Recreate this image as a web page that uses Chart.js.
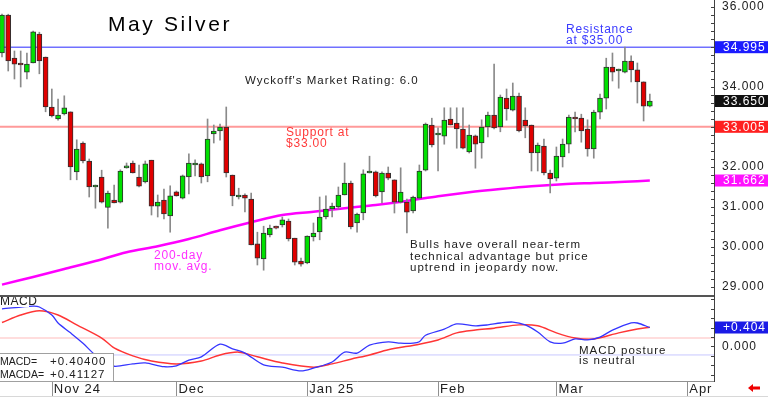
<!DOCTYPE html>
<html>
<head>
<meta charset="utf-8">
<script src="https://cdn.jsdelivr.net/npm/chart.js@4.4.1/dist/chart.umd.min.js"></script>
<style>
html, body { margin: 0; padding: 0; background: #fff; }
#wrap { position: relative; width: 768px; height: 397px; overflow: hidden; }
#priceCanvas { position: absolute; left: 0; top: 0; }
#macdCanvas { position: absolute; left: 0; top: 297px; }
</style>
</head>
<body>
<div id="wrap">
  <canvas id="priceCanvas" width="768" height="297"></canvas>
  <canvas id="macdCanvas" width="768" height="100"></canvas>
</div>
<script>
// Daily candles, oldest first
const opens  = [34.85,35.80,34.72,34.57,34.37,34.60,35.32,34.75,33.50,33.20,33.33,33.38,31.88,32.60,32.15,31.50,31.75,30.99,31.17,31.12,
                31.98,32.10,31.75,31.63,32.17,31.02,31.17,30.78,31.38,31.22,31.75,32.05,32.08,31.78,32.83,32.90,33.00,31.80,31.25,31.30,
                31.20,30.08,29.70,30.30,30.50,30.55,30.65,30.22,29.65,29.60,30.25,30.38,30.75,30.95,31.00,31.30,31.60,30.60,30.85,31.85,
                31.88,31.38,31.85,31.68,31.12,31.12,30.90,31.22,31.92,33.05,32.80,32.77,33.20,33.10,32.95,32.38,32.78,32.60,33.00,33.30,
                33.00,33.72,33.42,33.77,33.17,33.05,32.35,32.52,31.85,31.72,32.25,32.57,33.22,33.22,32.95,32.45,33.37,33.72,34.50,34.40,
                34.37,34.65,34.43,34.13,33.52];
const highs  = [35.82,35.82,34.90,34.90,34.85,35.40,35.37,34.75,33.95,33.70,33.78,33.38,32.68,32.63,32.20,31.55,31.92,31.40,31.55,31.93,
                32.10,32.15,32.05,32.15,32.17,31.30,31.45,31.53,31.40,31.80,32.33,32.18,32.10,33.20,33.05,33.07,33.50,31.80,31.47,31.33,
                31.35,30.37,30.52,30.55,30.52,30.75,30.70,30.22,29.72,30.28,30.60,31.25,31.28,31.10,31.50,32.10,31.65,30.85,31.93,32.27,
                31.90,31.88,32.00,31.68,31.98,31.20,31.27,32.05,33.10,33.22,32.98,33.48,33.48,33.48,33.48,33.05,32.80,33.18,33.37,34.57,
                33.80,33.95,34.10,33.85,33.48,33.05,32.60,32.70,31.92,32.50,32.70,33.30,33.37,33.32,33.18,33.42,33.82,34.72,34.85,34.45,
                35.00,34.78,34.60,34.13,33.82];
const lows   = [34.75,34.40,34.20,34.00,34.20,34.60,34.33,33.38,33.25,33.17,33.30,31.68,31.68,32.10,31.25,30.97,31.10,30.47,31.10,31.10,
                31.97,31.85,31.50,31.60,30.80,30.75,30.70,30.37,31.27,31.20,31.33,31.78,31.60,31.63,32.60,32.67,31.75,31.03,31.20,30.88,
                30.05,29.55,29.42,30.25,30.45,30.50,30.15,29.55,29.52,29.58,30.15,30.18,30.70,30.75,30.95,31.30,30.45,30.37,30.68,31.85,
                31.25,31.10,31.68,30.85,31.10,30.35,30.85,31.20,31.90,32.50,31.90,32.57,33.05,32.47,32.45,32.35,31.97,32.22,32.75,32.95,
                32.88,33.17,33.40,32.88,32.73,31.90,31.90,31.80,31.35,31.65,32.00,32.35,32.88,32.62,32.27,32.22,33.20,33.45,34.15,33.97,
                34.35,34.13,33.60,33.15,33.50];
const closes = [35.80,34.65,34.57,34.55,34.57,35.38,34.65,33.50,33.28,33.30,33.48,32.00,32.45,32.15,31.50,31.52,31.12,31.35,31.10,31.90,
                32.00,31.85,31.52,32.08,31.02,31.12,30.83,31.28,31.28,31.78,32.10,32.10,31.75,32.70,32.90,33.00,31.85,31.28,31.30,31.22,
                30.05,29.72,30.35,30.47,30.47,30.68,30.20,29.62,29.57,30.27,30.35,30.75,30.95,31.02,31.30,31.60,30.50,30.82,31.83,31.88,
                31.28,31.85,31.72,31.12,31.37,30.87,31.25,31.90,33.07,32.55,32.82,33.17,33.05,32.95,32.47,32.80,32.57,33.00,33.30,32.98,
                33.75,33.45,33.77,32.90,33.03,32.35,32.55,31.85,31.70,32.27,32.57,33.25,33.20,32.90,32.45,33.37,33.72,34.50,34.37,34.42,
                34.65,34.43,34.13,33.52,33.65];

// 200-day moving average, sampled at bar indices
const maIdx  = [0, 5, 10, 15, 20, 25, 30, 35, 40, 45, 50, 55, 60, 65, 70, 75, 80, 85, 90, 95, 100, 104];
const maVals = [29.06, 29.25, 29.45, 29.65, 29.87, 30.02, 30.20, 30.42, 30.62, 30.80, 30.88, 30.97, 31.05, 31.15,
                31.27, 31.37, 31.45, 31.52, 31.57, 31.60, 31.63, 31.662];

// MACD (blue) and its average (red), sampled at bar indices
const macdIdx  = [0, 5, 6, 8, 9, 11, 13, 15, 17, 18, 21, 23, 26, 28, 30, 32, 35, 37, 39, 42, 45, 48, 50, 53, 55, 57, 59,
                  62, 64, 66, 67, 68, 71, 73, 76, 78, 80, 82, 84, 86, 88, 90, 92, 94, 96, 98, 101, 102, 104];
const macdVals = [0.80, 0.86, 0.84, 0.67, 0.50, 0.29, 0.07, -0.18, -0.31, -0.42, -0.37, -0.35, -0.43, -0.41, -0.29, -0.22,
                  0.05, -0.05, -0.14, -0.39, -0.44, -0.52, -0.46, -0.33, -0.12, -0.14, 0.03, 0.10, 0.07, 0.07, 0.10, 0.24,
                  0.37, 0.48, 0.44, 0.46, 0.50, 0.52, 0.46, 0.31, 0.10, 0.07, 0.16, 0.14, 0.20, 0.35, 0.50, 0.50, 0.404];
const sigIdx   = [0, 3, 6, 9, 12, 16, 18, 21, 24, 28, 32, 35, 38, 41, 45, 50, 53, 56, 59, 62, 67, 70, 73, 76, 79, 83,
                  86, 89, 92, 95, 99, 102, 104];
const sigVals  = [0.51, 0.67, 0.76, 0.67, 0.46, 0.18, -0.03, -0.20, -0.31, -0.37, -0.31, -0.18, -0.12, -0.22, -0.35,
                  -0.44, -0.37, -0.27, -0.18, -0.07, 0.05, 0.14, 0.29, 0.35, 0.39, 0.46, 0.44, 0.29, 0.18, 0.16, 0.29,
                  0.37, 0.411];

// Month ticks on the date axis
const monthIdx    = [8, 28, 49, 70, 89, 110];
const monthLabels = ['Nov 24', 'Dec', 'Jan 25', 'Feb', 'Mar', 'Apr'];

const resistance = 34.995;
const support = 33.005;
const lastClose = 33.650;
const lastMA = 31.662;
const macdNow = 0.40400;
const macdAvgNow = 0.41127;
const macdBands = [0.18, -0.18];

const xMin = -0.32, xMax = 114.3;
const upColor = '#00e000', downColor = '#e00000';
const FONT = "'Liberation Sans', Arial, sans-serif";

function txt(ctx, s, x, y, color, size, spacing, align) {
    ctx.save();
    ctx.font = size + 'px ' + FONT;
    ctx.letterSpacing = (spacing || 0) + 'px';
    ctx.fillStyle = color;
    ctx.textAlign = align || 'left';
    ctx.textBaseline = 'middle';
    ctx.fillText(s, x, y);
    ctx.restore();
}

function valueBox(ctx, scale, value, bg, label) {
    const y = scale.getPixelForValue(value);
    ctx.fillStyle = bg;
    ctx.fillRect(scale.left + 1, y - 6, 54, 12);
    txt(ctx, label, scale.left + 9, y + 0.5, '#ffffff', 12, 1);
}

function minorTicks(ctx, scale, from, to, step) {
    ctx.strokeStyle = '#404040';
    ctx.lineWidth = 1;
    for (let v = from; v <= to + 1e-9; v += step) {
        const y = Math.round(scale.getPixelForValue(v)) + 0.5;
        ctx.beginPath();
        ctx.moveTo(scale.left - 3, y);
        ctx.lineTo(scale.left, y);
        ctx.stroke();
    }
}

const spacingPlugin = {
    id: 'spacing',
    beforeDraw(chart) { chart.ctx.letterSpacing = '1px'; }
};

// Price panel
const bars = opens.map((o, i) => i);
const pricePlugin = {
    id: 'priceExtras',
    afterDraw(chart) {
        const ctx = chart.ctx;
        const ys = chart.scales.y;
        ctx.save();
        minorTicks(ctx, ys, 28.8, 36.0, 0.2);
        // panel separator
        ctx.fillStyle = '#555555';
        ctx.fillRect(0, 295, ys.left, 2);

        txt(ctx, 'May Silver', 108, 25, '#000000', 21, 2.6);
        txt(ctx, "Wyckoff's Market Rating: 6.0", 245, 81, '#202020', 11.5, 1);
        txt(ctx, 'Resistance', 566, 30, '#3a3aff', 12, 0.8);
        txt(ctx, 'at $35.00', 566, 41, '#3a3aff', 12, 0.8);
        txt(ctx, 'Support at', 286, 133, '#ff3a3a', 12, 0.8);
        txt(ctx, '$33.00', 286, 144, '#ff3a3a', 12, 0.8);
        txt(ctx, '200-day', 154, 256, '#ff30ff', 12, 0.8);
        txt(ctx, 'mov. avg.', 154, 267, '#ff30ff', 12, 0.8);
        txt(ctx, 'Bulls have overall near-term', 410, 245, '#202020', 11.5, 1);
        txt(ctx, 'technical advantage but price', 410, 257, '#202020', 11.5, 1);
        txt(ctx, 'uptrend in jeopardy now.', 410, 268, '#202020', 11.5, 1);

        valueBox(ctx, ys, resistance, '#1c1cff', resistance.toFixed(3));
        valueBox(ctx, ys, lastClose, '#111111', lastClose.toFixed(3));
        valueBox(ctx, ys, support, '#ff2020', support.toFixed(3));
        valueBox(ctx, ys, lastMA, '#ff10ff', lastMA.toFixed(3));
        ctx.restore();
    }
};

new Chart(document.getElementById('priceCanvas'), {
    type: 'bar',
    data: {
        datasets: [
            {
                data: bars.map(i => ({ x: i, y: [opens[i], closes[i]] })),
                backgroundColor: bars.map(i => closes[i] >= opens[i] ? upColor : downColor),
                borderColor: '#303030',
                borderWidth: 1,
                borderSkipped: false,
                barThickness: 5,
                minBarLength: 2,
                grouped: false,
                order: 0
            },
            {
                data: bars.map(i => ({ x: i, y: [lows[i], highs[i]] })),
                backgroundColor: '#8a8a8a',
                borderWidth: 0,
                barThickness: 1,
                grouped: false,
                order: 1
            },
            {
                type: 'line',
                data: maIdx.map((x, k) => ({ x: x, y: maVals[k] })),
                borderColor: '#ff00ff',
                borderWidth: 2.5,
                pointRadius: 0,
                tension: 0.3,
                order: 2
            },
            {
                type: 'line',
                data: [{ x: xMin, y: resistance }, { x: xMax, y: resistance }],
                borderColor: '#7070ff',
                borderWidth: 1.5,
                pointRadius: 0,
                order: 3
            },
            {
                type: 'line',
                data: [{ x: xMin, y: support }, { x: xMax, y: support }],
                borderColor: '#ff9a9a',
                borderWidth: 2,
                pointRadius: 0,
                order: 3
            }
        ]
    },
    options: {
        responsive: false,
        animation: false,
        layout: { padding: 0 },
        plugins: { legend: { display: false }, tooltip: { enabled: false } },
        scales: {
            x: { type: 'linear', min: xMin, max: xMax, offset: false, display: false },
            y: {
                type: 'linear',
                position: 'right',
                min: 28.75,
                max: 36.175,
                afterFit(s) { s.width = 54; s.paddingTop = 0; s.paddingBottom = 0; },
                grid: { display: false, drawTicks: false },
                border: { display: true, color: '#404040', width: 1 },
                ticks: {
                    stepSize: 1,
                    includeBounds: false,
                    padding: 8,
                    color: '#202020',
                    font: { family: FONT, size: 12 },
                    callback: v => v.toFixed(3)
                }
            }
        }
    },
    plugins: [spacingPlugin, pricePlugin]
});

// MACD panel
const macdPlugin = {
    id: 'macdExtras',
    afterDraw(chart) {
        const ctx = chart.ctx;
        const ys = chart.scales.y;
        const xs = chart.scales.x;
        const area = chart.chartArea;
        ctx.save();
        minorTicks(ctx, ys, -0.6, 1.0, 0.2);

        // date row separators
        ctx.strokeStyle = '#909090';
        ctx.lineWidth = 1;
        monthIdx.forEach(v => {
            const x = Math.round(xs.getPixelForValue(v)) + 0.5;
            ctx.beginPath();
            ctx.moveTo(x, area.bottom);
            ctx.lineTo(x, 100);
            ctx.stroke();
        });
        ctx.fillStyle = '#d8d8d8';
        ctx.fillRect(0, 99, 768, 1);

        // MACD label
        ctx.fillStyle = '#ffffff';
        ctx.fillRect(0, 0, 29, 10);
        txt(ctx, 'MACD', 0, 5, '#202020', 12, 0.5);

        // readout box
        ctx.fillStyle = '#ffffff';
        ctx.fillRect(0, 56, 114, 28);
        ctx.strokeStyle = '#a0a0a0';
        ctx.strokeRect(-0.5, 56.5, 114, 28);
        txt(ctx, 'MACD=', 0, 65, '#202020', 10.5, 0);
        txt(ctx, '+' + macdNow.toFixed(5), 50, 65, '#202020', 11.5, 1);
        txt(ctx, 'MACDA=', 0, 78, '#202020', 10.5, 0);
        txt(ctx, '+' + macdAvgNow.toFixed(5), 50, 78, '#202020', 11.5, 1);

        txt(ctx, 'MACD posture', 579, 54, '#202020', 11.5, 1);
        txt(ctx, 'is neutral', 579, 64, '#202020', 11.5, 1);

        valueBox(ctx, ys, macdNow, '#1a1ae6', '+' + macdNow.toFixed(3));

        // red arrow in the corner
        ctx.fillStyle = '#ee0000';
        ctx.beginPath();
        ctx.moveTo(748, 91);
        ctx.lineTo(753, 87);
        ctx.lineTo(753, 89.5);
        ctx.lineTo(760, 89.5);
        ctx.lineTo(760, 92.5);
        ctx.lineTo(753, 92.5);
        ctx.lineTo(753, 95);
        ctx.closePath();
        ctx.fill();
        ctx.restore();
    }
};

new Chart(document.getElementById('macdCanvas'), {
    type: 'line',
    data: {
        datasets: [
            {
                data: macdIdx.map((x, k) => ({ x: x, y: macdVals[k] })),
                borderColor: '#3535ff',
                borderWidth: 1.3,
                pointRadius: 0,
                tension: 0.3
            },
            {
                data: sigIdx.map((x, k) => ({ x: x, y: sigVals[k] })),
                borderColor: '#ff3535',
                borderWidth: 1.5,
                pointRadius: 0,
                tension: 0.3
            },
            {
                data: [{ x: xMin, y: macdBands[0] }, { x: xMax, y: macdBands[0] }],
                borderColor: '#ffd2d2',
                borderWidth: 1.5,
                pointRadius: 0
            },
            {
                data: [{ x: xMin, y: macdBands[1] }, { x: xMax, y: macdBands[1] }],
                borderColor: '#c8c8ff',
                borderWidth: 1,
                pointRadius: 0
            }
        ]
    },
    options: {
        responsive: false,
        animation: false,
        layout: { padding: 0 },
        plugins: { legend: { display: false }, tooltip: { enabled: false } },
        scales: {
            x: {
                type: 'linear',
                min: xMin,
                max: xMax,
                offset: false,
                afterBuildTicks(s) { s.ticks = monthIdx.map(v => ({ value: v })); },
                afterFit(s) { s.height = 16; s.paddingLeft = 0; s.paddingRight = 0; },
                grid: { display: false, drawTicks: false },
                border: { display: true, color: '#909090', width: 1 },
                ticks: {
                    autoSkip: false,
                    maxRotation: 0,
                    align: 'start',
                    labelOffset: 2,
                    padding: 1,
                    color: '#202020',
                    font: { family: FONT, size: 13 },
                    callback: (v, i) => monthLabels[i]
                }
            },
            y: {
                type: 'linear',
                position: 'right',
                min: -0.734,
                max: 1.053,
                afterBuildTicks(s) { s.ticks = [{ value: 0 }]; },
                afterFit(s) { s.width = 54; s.paddingTop = 0; s.paddingBottom = 0; },
                grid: { display: false, drawTicks: false },
                border: { display: true, color: '#404040', width: 1 },
                ticks: {
                    padding: 8,
                    color: '#202020',
                    font: { family: FONT, size: 12 },
                    callback: v => v.toFixed(3)
                }
            }
        }
    },
    plugins: [spacingPlugin, macdPlugin]
});
</script>
</body>
</html>
